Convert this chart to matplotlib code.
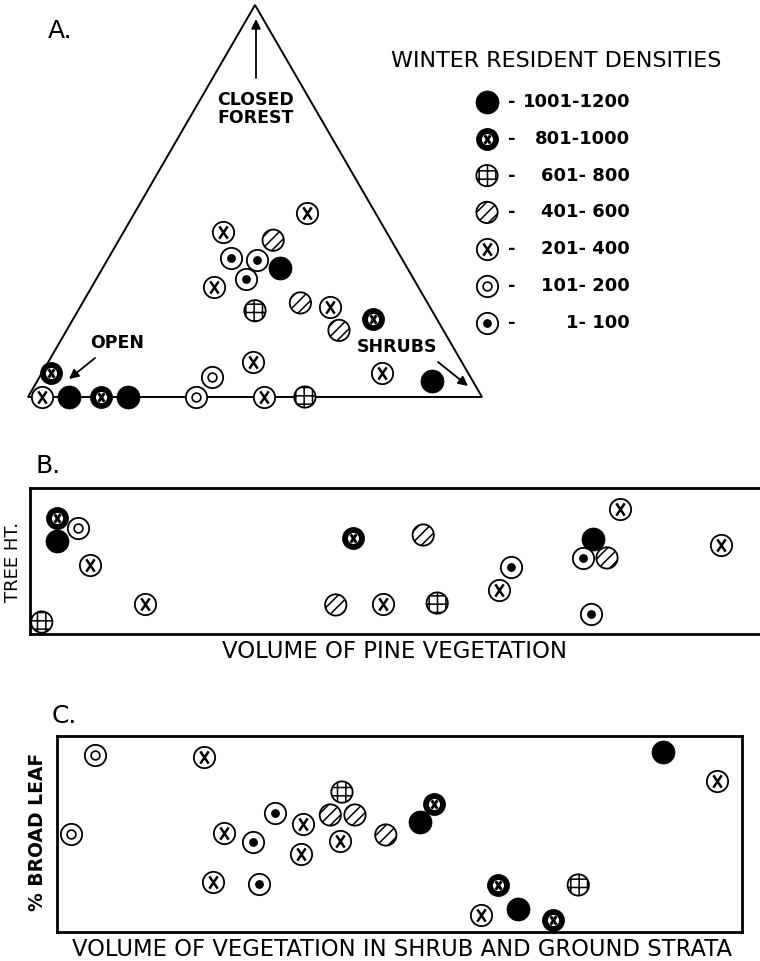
import numpy as np
import matplotlib.pyplot as plt
from matplotlib.path import Path
from matplotlib.patches import Polygon

plt.rcParams['font.family'] = 'DejaVu Sans'
plt.rcParams['hatch.linewidth'] = 1.1

# density classes (birds), highest first as in the key
classes = ['1001-1200', '801-1000', '601- 800', '401- 600', '201- 400', '101- 200', '1- 100']

# A. habitat make-up of each plot: share of closed forest and of shrubs (rest = open)
a_forest = [0.00, 0.06, 0.00, 0.00, 0.00, 0.00, 0.05, 0.09, 0.00, 0.00, 0.06, 0.04,
            0.47, 0.42, 0.40, 0.355, 0.35, 0.33, 0.30, 0.28, 0.22, 0.24, 0.23, 0.17, 0.20]
a_shrubs = [0.03, 0.02, 0.09, 0.16, 0.22, 0.37, 0.38, 0.45, 0.52, 0.61, 0.75, 0.87,
            0.38, 0.22, 0.34, 0.27, 0.33, 0.39, 0.33, 0.27, 0.39, 0.48, 0.55, 0.60, 0.66]
a_class = [4, 1, 0, 1, 0, 5, 5, 4, 4, 2, 4, 0,
           4, 4, 3, 6, 6, 0, 6, 4, 2, 3, 4, 3, 1]

# B. pine volume vs tree height (relative units)
b_pine = [1.6, 3.7, 6.5, 3.7, 8.2, 15.6, 43.9, 53.5, 41.6, 48.0, 55.4, 63.8, 65.4,
          80.3, 76.6, 75.2, 78.5, 76.3, 94.0]
b_height = [8.2, 79.5, 72.6, 63.7, 47.3, 20.5, 65.8, 67.8, 19.9, 20.5, 21.2, 30.1, 45.9,
            85.6, 65.1, 52.1, 52.1, 13.7, 61.0]
b_class = [2, 1, 5, 0, 4, 4, 1, 3, 3, 4, 2, 4, 6, 4, 0, 6, 3, 6, 4]

# C. shrub + ground volume vs % broad leaf (relative units)
c_volume = [5.5, 2.0, 21.5, 24.4, 28.6, 31.8, 22.8, 29.5, 35.9, 35.6, 41.6, 39.9,
            43.5, 41.3, 48.0, 53.0, 55.0, 64.4, 61.9, 67.3, 72.4, 76.1, 88.5, 96.4]
c_broadleaf = [90.3, 50.0, 89.3, 50.5, 45.9, 60.7, 25.5, 24.5, 55.1, 39.8, 71.4, 59.7,
               59.7, 46.4, 49.5, 56.1, 65.3, 24.0, 8.7, 11.7, 6.1, 24.0, 91.8, 77.0]
c_class = [5, 5, 4, 4, 6, 6, 4, 6, 4, 4, 2, 3, 3, 4, 3, 0, 1, 1, 4, 0, 1, 2, 0, 4]

# letter-X shaped marker
x_path = Path([(-0.34, -0.5), (0.34, 0.5), (-0.34, 0.5), (0.34, -0.5)],
              [Path.MOVETO, Path.LINETO, Path.MOVETO, Path.LINETO])

S = 235  # open circle area, pt^2


def mark(ax, x, y, k, z):
    kw = dict(clip_on=False, zorder=z)
    if k == 0:
        ax.scatter(x, y, s=275, c='black', edgecolors='black', linewidths=0.5, **kw)
    elif k == 1:
        ax.scatter(x, y, s=150, facecolors='white', edgecolors='black', linewidths=4.2, **kw)
        ax.scatter(x, y, s=36, marker=x_path, c='black', linewidths=2.1, zorder=z + 0.1, clip_on=False)
    elif k == 2:
        ax.scatter(x, y, s=S, facecolors='white', edgecolors='black', linewidths=1.3, hatch='++', **kw)
    elif k == 3:
        ax.scatter(x, y, s=S, facecolors='white', edgecolors='black', linewidths=1.3, hatch='///', **kw)
    else:
        ax.scatter(x, y, s=S, facecolors='white', edgecolors='black', linewidths=1.3, **kw)
        if k == 4:
            ax.scatter(x, y, s=78, marker=x_path, c='black', linewidths=1.8, zorder=z + 0.1, clip_on=False)
        elif k == 5:
            ax.scatter(x, y, s=40, facecolors='white', edgecolors='black', linewidths=1.2,
                       zorder=z + 0.1, clip_on=False)
        else:
            ax.scatter(x, y, s=28, c='black', zorder=z + 0.1, clip_on=False)


fig = plt.figure(figsize=(7.6, 9.61), dpi=100)
W, H = 760, 961

# ---- A: triangle (equilateral) ----
h3 = np.sqrt(3) / 2
axA = fig.add_axes([28 / W, 1 - 397 / H, 454 / W, 392 / H])
axA.set_xlim(0, 1)
axA.set_ylim(0, h3)
axA.axis('off')
axA.add_patch(Polygon([(0, 0), (1, 0), (0.5, h3)], closed=True, fill=False,
                      edgecolor='black', linewidth=1.4, clip_on=False))
fa = np.array(a_forest)
sa = np.array(a_shrubs)
ax_x = sa + fa / 2
ax_y = fa * h3
for i in range(len(fa)):
    mark(axA, ax_x[i], ax_y[i], a_class[i], 3 + i * 0.2)

# ---- B ----
axB = fig.add_axes([30 / W, 1 - 634 / H, 735 / W, 146 / H])
axB.set_xlim(0, 100)
axB.set_ylim(0, 100)
axB.set_xticks([])
axB.set_yticks([])
for sp in axB.spines.values():
    sp.set_linewidth(2)
for i in range(len(b_pine)):
    mark(axB, b_pine[i], b_height[i], b_class[i], 3 + i * 0.2)

# ---- C ----
axC = fig.add_axes([57 / W, 1 - 932 / H, 685 / W, 196 / H])
axC.set_xlim(0, 100)
axC.set_ylim(0, 100)
axC.set_xticks([])
axC.set_yticks([])
for sp in axC.spines.values():
    sp.set_linewidth(2)
for i in range(len(c_volume)):
    mark(axC, c_volume[i], c_broadleaf[i], c_class[i], 3 + i * 0.2)

# ---- labels, key and arrows in pixel space ----
ov = fig.add_axes([0, 0, 1, 1])
ov.set_xlim(0, W)
ov.set_ylim(H, 0)
ov.axis('off')

ov.text(48, 31, 'A.', fontsize=18, ha='left', va='center')
ov.text(36, 466, 'B.', fontsize=18, ha='left', va='center')
ov.text(52, 716, 'C.', fontsize=18, ha='left', va='center')

ov.text(556, 61, 'WINTER RESIDENT DENSITIES', fontsize=16, ha='center', va='center')
for j, lab in enumerate(classes):
    yy = 102 + j * 36.8
    mark(ov, 487, yy, j, 5)
    ov.text(512, yy, '-', fontsize=13, fontweight='bold', ha='center', va='center')
    ov.text(630, yy, lab, fontsize=13, fontweight='bold', ha='right', va='center')

ov.text(256, 100, 'CLOSED', fontsize=12.5, fontweight='bold', ha='center', va='center')
ov.text(256, 118, 'FOREST', fontsize=12.5, fontweight='bold', ha='center', va='center')
ov.text(117, 343, 'OPEN', fontsize=12.5, fontweight='bold', ha='center', va='center')
ov.text(397, 347, 'SHRUBS', fontsize=12.5, fontweight='bold', ha='center', va='center')

arrow = dict(arrowstyle='-|>', color='black', lw=1.3, mutation_scale=14, shrinkA=0, shrinkB=0)
ov.annotate('', xy=(256, 19), xytext=(256, 78), arrowprops=arrow)
ov.annotate('', xy=(69, 379), xytext=(95, 358), arrowprops=arrow)
ov.annotate('', xy=(468, 386), xytext=(438, 362), arrowprops=arrow)

ov.text(395, 652, 'VOLUME OF PINE VEGETATION', fontsize=16.5, ha='center', va='center')
ov.text(402, 949, 'VOLUME OF VEGETATION IN SHRUB AND GROUND STRATA', fontsize=16.3,
        ha='center', va='center')
ov.text(13, 562, 'TREE HT.', fontsize=13, rotation=90, ha='center', va='center')
ov.text(38, 832, '% BROAD LEAF', fontsize=13.5, fontweight='bold', rotation=90,
        ha='center', va='center')

fig.savefig('out.png', dpi=100)
